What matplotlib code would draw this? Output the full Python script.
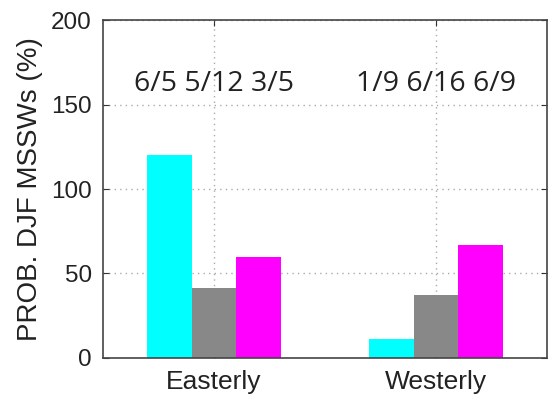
import matplotlib
matplotlib.use("Agg")
import matplotlib.pyplot as plt
import numpy as np

groups = ["Easterly", "Westerly"]
series_colors = ["#00FFFF", "#888888", "#FF00FF"]
values = [
    [120.0, 11.1],    # cyan
    [41.67, 37.5],    # gray
    [60.0, 66.67],    # magenta
]
ratio_labels = ["6/5 5/12 3/5", "1/9 6/16 6/9"]
yticks = [0, 50, 100, 150, 200]

fig = plt.figure(figsize=(5.49, 3.99), dpi=100)
ax = fig.add_axes([0.1876, 0.1028, 0.8088, 0.847])

x = np.arange(1, len(groups) + 1)
w = 0.2
for i, (vals, c) in enumerate(zip(values, series_colors)):
    ax.bar(x + (i - 1) * w, vals, width=w, color=c, edgecolor="none", zorder=2)

ax.set_xlim(0.5, 2.5)
ax.set_ylim(0, 200)
ax.set_yticks(yticks)
ax.set_xticks(x)
ax.set_xticklabels(groups)
ax.grid(True, linestyle=(0, (1, 3)), color="#aaaaaa", linewidth=1.0, zorder=0)
ax.tick_params(direction="in", length=4, width=0.8, color="#333333",
               right=True, top=True, labelcolor="#222222")
ax.tick_params(axis="y", labelsize=17.5, pad=8)
ax.tick_params(axis="x", labelsize=19, pad=9)
for lab in ax.get_xticklabels() + ax.get_yticklabels():
    lab.set_family("Liberation Sans")
for s in ax.spines.values():
    s.set_color("#444444")
    s.set_linewidth(1.2)

ax.set_ylabel("PROB. DJF MSSWs (%)", fontsize=20, family="Liberation Sans",
              color="#222222", labelpad=6)

for xi, t in zip(x, ratio_labels):
    ax.text(xi, 162, t, ha="center", va="center", fontsize=20.5,
            family="Open Sans", color="#222222", zorder=3)

fig.savefig("out.png", dpi=100, facecolor="white")
